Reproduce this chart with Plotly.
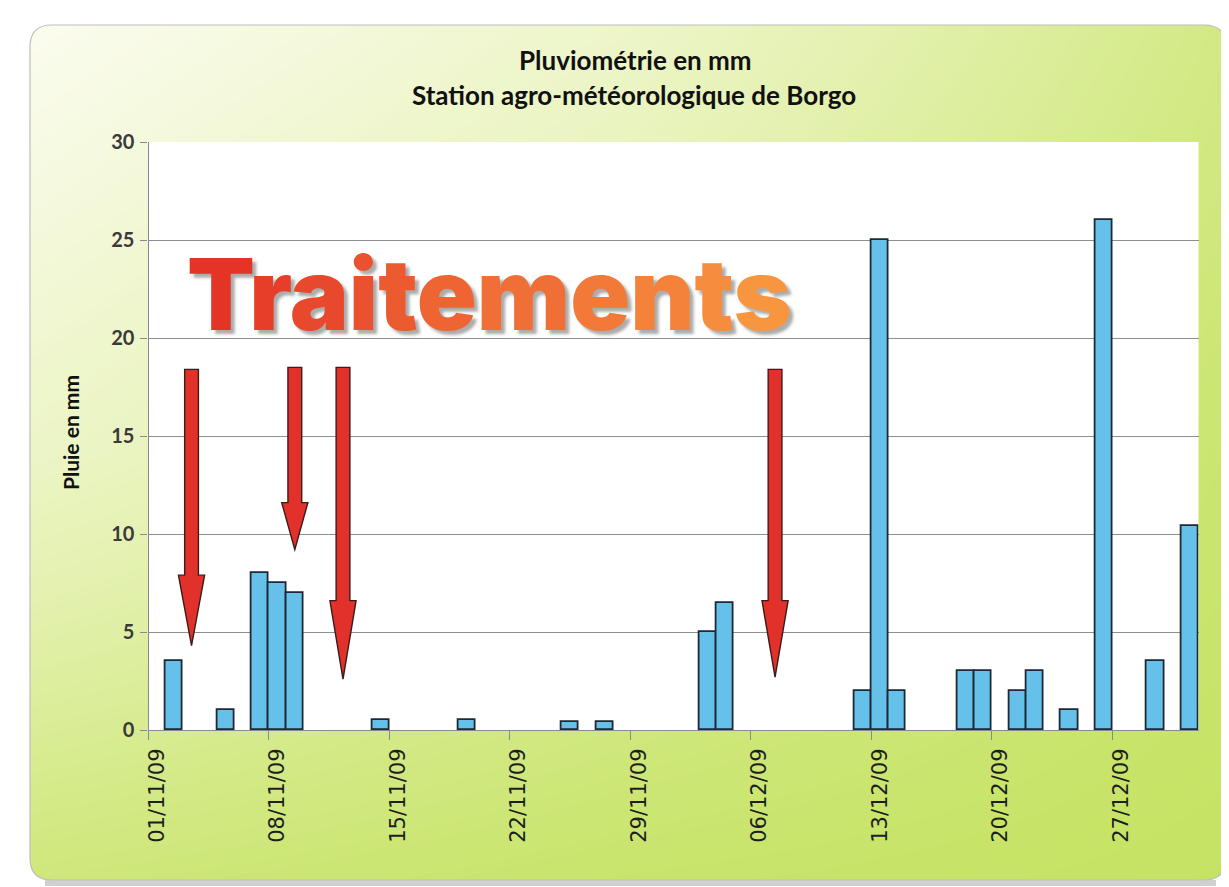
import plotly.graph_objects as go
import pandas as pd

# ---------------- data ----------------
start_date = "01/11/09"
rain_dates = ["02/11/09", "05/11/09", "07/11/09", "08/11/09", "09/11/09", "14/11/09",
              "19/11/09", "25/11/09", "27/11/09", "03/12/09", "04/12/09", "12/12/09",
              "13/12/09", "14/12/09", "18/12/09", "19/12/09", "21/12/09", "22/12/09",
              "24/12/09", "26/12/09", "29/12/09", "31/12/09"]
rain_mm = [3.5, 1.0, 8.0, 7.5, 7.0, 0.5,
           0.5, 0.4, 0.4, 5.0, 6.5, 2.0,
           25.0, 2.0, 3.0, 3.0, 2.0, 3.0,
           1.0, 26.0, 3.5, 10.4]
tick_labels = ["01/11/09", "08/11/09", "15/11/09", "22/11/09", "29/11/09",
               "06/12/09", "13/12/09", "20/12/09", "27/12/09"]
end_date = "31/12/09"

# treatment arrows (day offset from 01/11/09, top / tip / head length in mm)
arrow_day = [2.0, 8.0, 10.8, 35.9]
arrow_top = [18.4, 18.5, 18.5, 18.4]
arrow_tip = [4.3, 9.2, 2.6, 2.7]
arrow_head = [3.6, 2.4, 4.0, 3.9]

title_1 = "Pluviométrie en mm"
title_2 = "Station agro-météorologique de Borgo"
y_title = "Pluie en mm"
banner = "Traitements"

# ---------------- helpers ----------------
OFF = 8                      # the page body has an 8px margin
FW, FH = 1229 - OFF, 887 - OFF
t0 = pd.to_datetime(start_date, format="%d/%m/%y")


def day_index(s):
    return (pd.to_datetime(s, format="%d/%m/%y") - t0).days


def fx(px):
    return (px - OFF) / FW


def fy(py):
    return 1 - (py - OFF) / FH


x_rain = [day_index(d) for d in rain_dates]
x_ticks = [day_index(d) for d in tick_labels]
n_last = day_index(end_date)

fig = go.Figure()

# background gradient panel (separate hidden subplot)
bg_z = [[0.85, 0.95, 1.0],
        [0.32, 0.62, 0.92],
        [0.0, 0.3, 0.78]]
fig.add_trace(go.Heatmap(
    x=[0, 0.5, 1], y=[0, 0.5, 1], z=bg_z, zmin=0, zmax=1,
    colorscale=[[0, "#fbfcef"], [0.5, "#e4f1b0"], [1, "#c5e363"]],
    zsmooth="best", showscale=False, hoverinfo="skip", xaxis="x", yaxis="y"))

# rainfall bars
fig.add_trace(go.Bar(
    x=x_rain, y=rain_mm, width=1.0, xaxis="x2", yaxis="y2",
    marker=dict(color="#66c1ea", line=dict(color="#1d2933", width=1.8)),
    hovertemplate="%{y} mm<extra></extra>"))

shapes = []
# arrows
sw, hw = 0.40, 0.76
for xc, yt, ytip, hl in zip(arrow_day, arrow_top, arrow_tip, arrow_head):
    yh = ytip + hl
    path = (f"M {xc-sw},{yt} L {xc+sw},{yt} L {xc+sw},{yh} L {xc+hw},{yh} "
            f"L {xc},{ytip} L {xc-hw},{yh} L {xc-sw},{yh} Z")
    shapes.append(dict(type="path", path=path, xref="x2", yref="y2",
                       fillcolor="#e2302a", line=dict(color="#3b1c1a", width=1.4),
                       layer="above"))

# panel outline, rounded corners, shadow
X0, Y0, X1, Y1, R = 30, 25, 1226, 880, 22
shapes.append(dict(type="rect", xref="paper", yref="paper",
                   x0=fx(X0 + 15), x1=fx(X1 - 10), y0=fy(Y1 + 6), y1=fy(Y1),
                   fillcolor="rgba(120,120,120,0.35)", line=dict(width=0), layer="below"))
corners = [
    (X0, Y0, X0 + R, Y0, X0, Y0 + R),
    (X1, Y0, X1 - R, Y0, X1, Y0 + R),
    (X0, Y1, X0 + R, Y1, X0, Y1 - R),
    (X1, Y1, X1 - R, Y1, X1, Y1 - R),
]
for cx, cy, ax_, ay_, bx, by in corners:
    shapes.append(dict(type="path", xref="paper", yref="paper",
                       path=f"M {fx(cx)},{fy(cy)} L {fx(ax_)},{fy(ay_)} Q {fx(cx)},{fy(cy)} {fx(bx)},{fy(by)} Z",
                       fillcolor="white", line=dict(width=0), layer="above"))
outline = (f"M {fx(X0+R)},{fy(Y0)} L {fx(X1-R)},{fy(Y0)} Q {fx(X1)},{fy(Y0)} {fx(X1)},{fy(Y0+R)} "
           f"L {fx(X1)},{fy(Y1-R)} Q {fx(X1)},{fy(Y1)} {fx(X1-R)},{fy(Y1)} "
           f"L {fx(X0+R)},{fy(Y1)} Q {fx(X0)},{fy(Y1)} {fx(X0)},{fy(Y1-R)} "
           f"L {fx(X0)},{fy(Y0+R)} Q {fx(X0)},{fy(Y0)} {fx(X0+R)},{fy(Y0)} Z")
shapes.append(dict(type="path", xref="paper", yref="paper", path=outline,
                   line=dict(color="#bdbdbd", width=1.2), layer="above"))

# banner text with a left-to-right colour ramp
c_from, c_to = (228, 52, 38), (248, 150, 64)
spans = []
for i, ch in enumerate(banner):
    t = i / (len(banner) - 1)
    c = tuple(round(a + (b - a) * t) for a, b in zip(c_from, c_to))
    spans.append(f"<span style='color:rgb{c}'>{ch}</span>")
banner_txt = "".join(spans)

annotations = [
    dict(text=f"<b>{title_1}</b>", x=fx(635), y=fy(60), xref="paper", yref="paper",
         showarrow=False, xanchor="center", yanchor="middle",
         font=dict(family="Lato", size=26, color="#111111")),
    dict(text=f"<b>{title_2}</b>", x=fx(634), y=fy(95), xref="paper", yref="paper",
         showarrow=False, xanchor="center", yanchor="middle",
         font=dict(family="Lato", size=26, color="#111111")),
    dict(text=f"<b>{y_title}</b>", x=fx(70), y=fy(432), xref="paper", yref="paper",
         showarrow=False, textangle=-90, xanchor="center", yanchor="middle",
         font=dict(family="Lato", size=21, color="#111111")),
    dict(text=banner_txt, x=fx(489), y=fy(294), xref="paper", yref="paper",
         showarrow=False, xanchor="center", yanchor="middle",
         font=dict(family="Inter", size=99, weight=900, color="#f07a35",
                   shadow="4px 4px 3px rgba(90,90,90,0.5)")),
]

fig.update_layout(
    width=FW, height=FH,
    margin=dict(l=0, r=0, t=0, b=0),
    paper_bgcolor="white", plot_bgcolor="white",
    showlegend=False, bargap=0,
    xaxis=dict(domain=[fx(X0), min(1, fx(X1))], range=[0, 1], visible=False, fixedrange=True),
    yaxis=dict(domain=[max(0, fy(Y1)), fy(Y0)], range=[0, 1], visible=False, fixedrange=True),
    xaxis2=dict(domain=[fx(148.5), fx(1198.5)], range=[-0.5, n_last + 0.5], anchor="y2",
                tickmode="array", tickvals=x_ticks, ticktext=tick_labels, tickangle=-90,
                ticks="", showline=True, linecolor="#8a8a8a", linewidth=1.2,
                showgrid=False, zeroline=False, automargin=False,
                ticklabelstandoff=9,
                tickfont=dict(family="DejaVu Sans", size=21, color="#1e1e1e"),
                minor=dict(tickmode="array", tickvals=[v - 0.5 for v in x_ticks],
                           ticks="outside", ticklen=9, tickcolor="#8a8a8a", tickwidth=1.2,
                           showgrid=False)),
    yaxis2=dict(domain=[fy(730), fy(142)], range=[0, 30], anchor="x2",
                tick0=0, dtick=5, showgrid=True, gridcolor="#8f8f8f", gridwidth=1,
                showline=True, linecolor="#8a8a8a", linewidth=1.2,
                ticks="outside", ticklen=7, tickcolor="#8a8a8a",
                zeroline=False, automargin=False, ticklabelstandoff=2,
                tickfont=dict(family="Lato", size=20, color="#3a3a3a", weight="bold")),
    shapes=shapes,
    annotations=annotations,
)

fig.write_html("out.html")
